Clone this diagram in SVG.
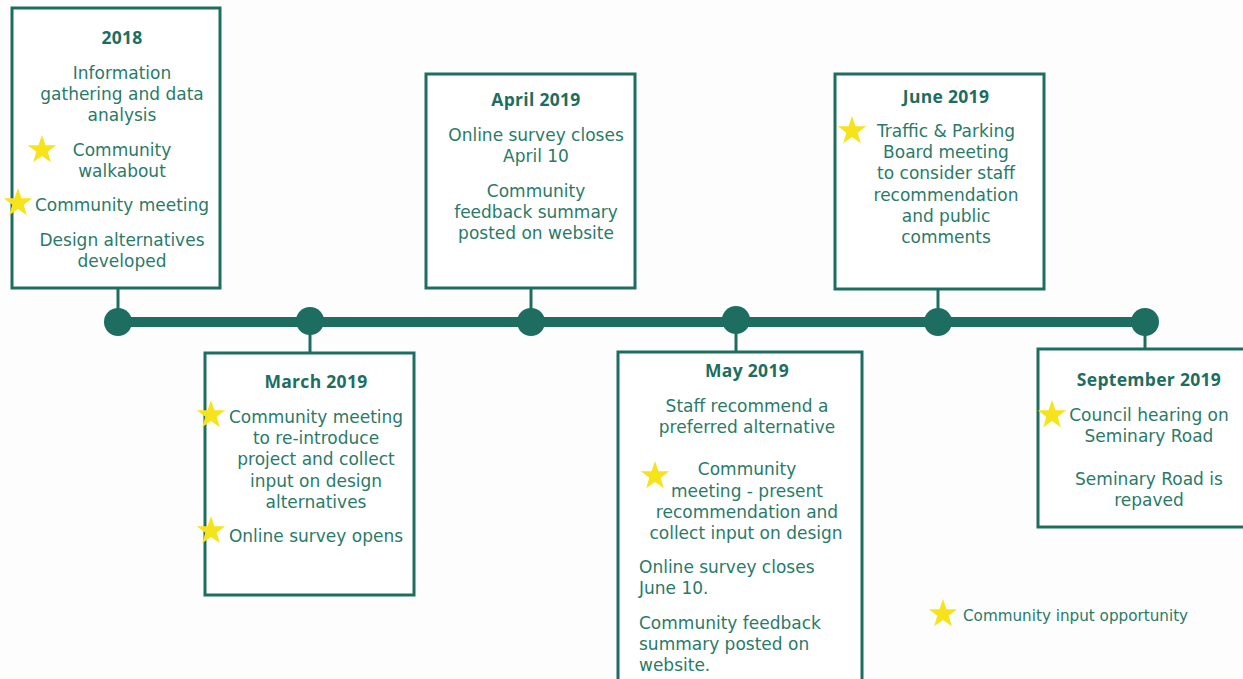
<svg xmlns="http://www.w3.org/2000/svg" width="1243" height="679" viewBox="0 0 1243 679">
<style>
.box{fill:#ffffff;stroke:#1d6e60;stroke-width:3}
.ln{stroke:#1d6e60;stroke-width:3;fill:none}
.dot{fill:#1d6e60}
text{font-family:"DejaVu Sans","Liberation Sans",sans-serif;font-size:17px;fill:#2a7a68;text-anchor:middle}
.t{font-family:"Open Sans","Liberation Sans",sans-serif;font-size:17.5px;font-weight:bold;fill:#1d6e60;letter-spacing:0.3px}
.l{text-anchor:start}
.lg{font-size:15.2px;text-anchor:start}
.star{fill:#f7e31c}
</style>
<defs>
<path id="star" class="star" d="M0,-15 L3.53,-4.85 L14.27,-4.64 L5.71,1.85 L8.82,12.14 L0,6 L-8.82,12.14 L-5.71,1.85 L-14.27,-4.64 L-3.53,-4.85 Z"/>
</defs>
<rect width="1243" height="679" fill="#fdfdfd"/>
<g id="connectors">
<line x1="118" y1="322" x2="1145" y2="322" stroke="#1d6e60" stroke-width="10"/>
<line class="ln" x1="118" y1="288" x2="118" y2="322"/>
<line class="ln" x1="310" y1="322" x2="310" y2="353"/>
<line class="ln" x1="531" y1="288" x2="531" y2="322"/>
<line class="ln" x1="736" y1="322" x2="736" y2="352"/>
<line class="ln" x1="938" y1="289" x2="938" y2="322"/>
<line class="ln" x1="1145" y1="322" x2="1145" y2="349"/>
<circle class="dot" cx="118" cy="322" r="14"/>
<circle class="dot" cx="310" cy="321" r="14"/>
<circle class="dot" cx="531" cy="322" r="14"/>
<circle class="dot" cx="736" cy="320" r="14"/>
<circle class="dot" cx="938" cy="322" r="14"/>
<circle class="dot" cx="1145" cy="322" r="14"/>
</g>
<g id="n2018">
<rect class="box" x="12" y="8" width="208" height="280"/>
<text class="t" x="122" y="44">2018</text>
<text x="122" y="79">Information</text>
<text x="122" y="100">gathering and data</text>
<text x="122" y="121">analysis</text>
<use href="#star" x="42" y="150"/>
<text x="122" y="156">Community</text>
<text x="122" y="177">walkabout</text>
<use href="#star" x="18" y="203"/>
<text x="122" y="211">Community meeting</text>
<text x="122" y="246">Design alternatives</text>
<text x="122" y="267">developed</text>
</g>
<g id="nMarch">
<rect class="box" x="205" y="353" width="209" height="242"/>
<text class="t" x="316" y="388">March 2019</text>
<use href="#star" x="211" y="415"/>
<text x="316" y="423">Community meeting</text>
<text x="316" y="444">to re-introduce</text>
<text x="316" y="465">project and collect</text>
<text x="316" y="487">input on design</text>
<text x="316" y="508">alternatives</text>
<use href="#star" x="211" y="531"/>
<text x="316" y="542">Online survey opens</text>
</g>
<g id="nApril">
<rect class="box" x="426" y="74" width="209" height="214"/>
<text class="t" x="536" y="106">April 2019</text>
<text x="536" y="141">Online survey closes</text>
<text x="536" y="162">April 10</text>
<text x="536" y="197">Community</text>
<text x="536" y="218">feedback summary</text>
<text x="536" y="239">posted on website</text>
</g>
<g id="nMay">
<rect class="box" x="618" y="352" width="244" height="340"/>
<text class="t" x="747" y="377">May 2019</text>
<text x="747" y="412">Staff recommend a</text>
<text x="747" y="433">preferred alternative</text>
<use href="#star" x="655" y="476"/>
<text x="747" y="475">Community</text>
<text x="747" y="497">meeting - present</text>
<text x="747" y="518">recommendation and</text>
<text x="746" y="539">collect input on design</text>
<text class="l" x="639" y="573">Online survey closes</text>
<text class="l" x="639" y="594">June 10.</text>
<text class="l" x="639" y="629">Community feedback</text>
<text class="l" x="639" y="650">summary posted on</text>
<text class="l" x="639" y="671">website.</text>
</g>
<g id="nJune">
<rect class="box" x="835" y="74" width="209" height="215"/>
<text class="t" x="946" y="103">June 2019</text>
<use href="#star" x="852" y="131"/>
<text x="946" y="137">Traffic &amp; Parking</text>
<text x="946" y="158">Board meeting</text>
<text x="946" y="179">to consider staff</text>
<text x="946" y="201">recommendation</text>
<text x="946" y="222">and public</text>
<text x="946" y="243">comments</text>
</g>
<g id="nSeptember">
<rect class="box" x="1038" y="349" width="215" height="178"/>
<text class="t" x="1149" y="386">September 2019</text>
<use href="#star" x="1052" y="415"/>
<text x="1149" y="421">Council hearing on</text>
<text x="1149" y="442">Seminary Road</text>
<text x="1149" y="485">Seminary Road is</text>
<text x="1149" y="506">repaved</text>
</g>
<g id="legend">
<use href="#star" x="943" y="614"/>
<text class="lg" x="963" y="621">Community input opportunity</text>
</g>
</svg>
